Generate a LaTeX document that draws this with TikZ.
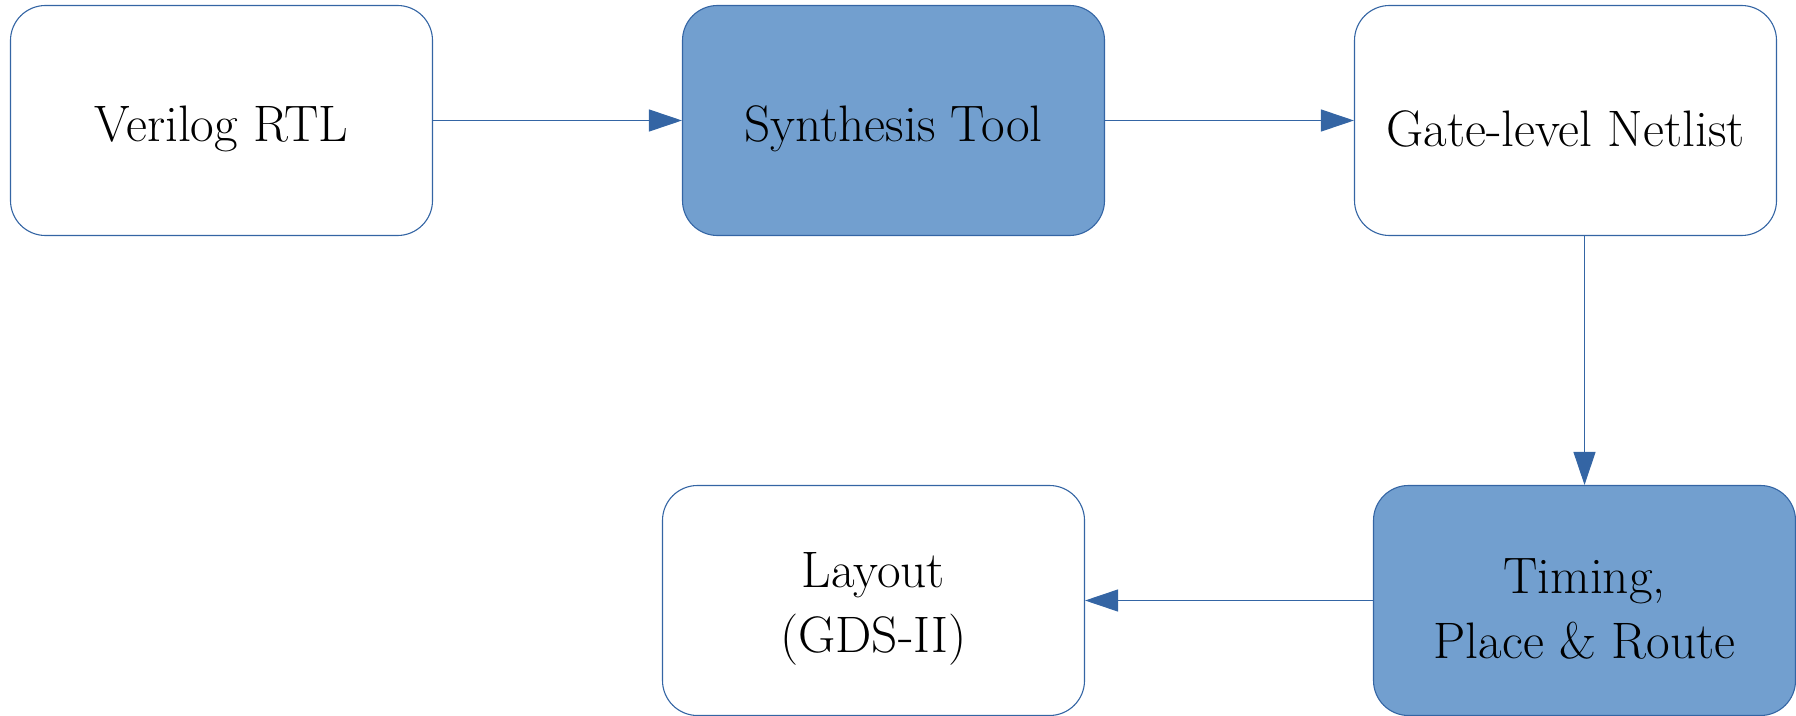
\documentclass[tikz,border=0pt]{standalone}
\usepackage{fontspec}
\usetikzlibrary{arrows.meta}
\definecolor{flowline}{HTML}{3465A4}
\definecolor{flowfill}{HTML}{729FCF}
% tall strut on the first line: sets each label a little below the box centre
\newcommand\stagestrut{\rule{0pt}{52bp}}
\begin{document}
\begin{tikzpicture}[x=1bp,y=-1bp,
  stage/.style={draw=flowline, line width=1.1bp, rounded corners=35bp,
    minimum width=422bp, minimum height=230bp, inner sep=0pt,
    align=center, font=\fontsize{51.5}{65}\selectfont},
  plainstage/.style={stage, fill=white},
  toolstage/.style={stage, fill=flowfill},
  flow/.style={draw=flowline, line width=1.1bp,
    -{Triangle[length=33bp,width=22bp,fill=flowline]}}]
  \useasboundingbox (0,0) rectangle (1796,716);
  \node[plainstage] (rtl)     at (221.5,120.5)  {\stagestrut Verilog RTL};
  \node[toolstage]  (synth)   at (893.5,120.5)  {\stagestrut Synthesis Tool};
  \node[plainstage] (netlist) at (1565.5,120.5) {\stagestrut Gate-level Netlist};
  \node[toolstage]  (pnr)     at (1584.5,600.5) {\stagestrut Timing,\\ Place \& Route};
  \node[plainstage] (layout)  at (873.5,600.5)  {\stagestrut Layout\\ (GDS-II)};
  \draw[flow] (rtl) -- (synth);
  \draw[flow] (synth) -- (netlist);
  \draw[flow] (pnr.north |- netlist.south) -- (pnr.north);
  \draw[flow] (pnr) -- (layout);
\end{tikzpicture}
\end{document}
